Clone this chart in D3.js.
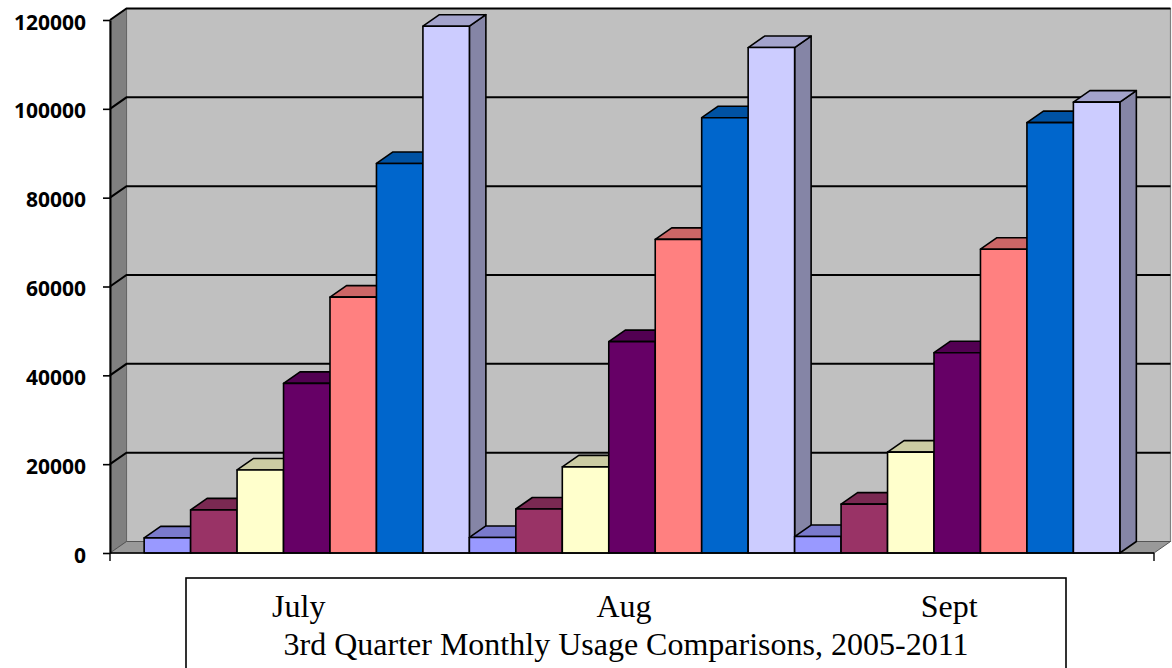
<!DOCTYPE html>
<html>
<head>
<meta charset="utf-8">
<script src="https://cdn.jsdelivr.net/npm/d3@7"></script>
<style>
  html, body { margin: 0; padding: 0; background: #fff; }
  svg { display: block; }
</style>
</head>
<body>
<svg id="chart" width="1172" height="668"></svg>
<script>
const months = ["July", "Aug", "Sept"];
const years = ["2005", "2006", "2007", "2008", "2009", "2010", "2011"];
const usage2005 = [3400, 3500, 3700];
const usage2006 = [9700, 9900, 11000];
const usage2007 = [18700, 19400, 22700];
const usage2008 = [38200, 47600, 45100];
const usage2009 = [57600, 70600, 68400];
const usage2010 = [87700, 98000, 96900];
const usage2011 = [118600, 113800, 101500];
const yTicks = [0, 20000, 40000, 60000, 80000, 100000, 120000];
const chartTitle = "3rd Quarter Monthly Usage Comparisons, 2005-2011";

const seriesValues = [usage2005, usage2006, usage2007, usage2008, usage2009, usage2010, usage2011];
const colors = ["#9999FF", "#993366", "#FFFFCC", "#660066", "#FF8080", "#0066CC", "#CCCCFF"];

(function () {
const svg = d3.select("#chart");
const W = 1172, H = 668;
svg.append("rect").attr("width", W).attr("height", H).attr("fill", "#fff");

// geometry
const pLeft = 110, pRight = 1154, pBottom = 553, pTop = 20;
const dx = 16.5, dy = -11.5;

const y = d3.scaleLinear().domain([0, 120000]).range([pBottom, pTop]);
const x0 = d3.scaleBand().domain(months).range([pLeft, pRight]).paddingInner(0).paddingOuter(0.105);
const x1 = d3.scaleBand().domain(years).range([0, x0.bandwidth()]).padding(0);

function shade(c, k) {
  const r = d3.rgb(c);
  return d3.rgb(r.r * k, r.g * k, r.b * k).formatHex();
}
const pts = arr => arr.map(p => p.join(",")).join(" ");

// back wall
svg.append("polygon")
  .attr("points", pts([[pLeft + dx, pTop + dy], [pRight + dx, pTop + dy], [pRight + dx, pBottom + dy], [pLeft + dx, pBottom + dy]]))
  .attr("fill", "#C0C0C0").attr("stroke", "#808080").attr("stroke-width", 1.2);
// side wall
svg.append("polygon")
  .attr("points", pts([[pLeft, pTop], [pLeft + dx, pTop + dy], [pLeft + dx, pBottom + dy], [pLeft, pBottom]]))
  .attr("fill", "#808080").attr("stroke", "#666").attr("stroke-width", 1);
// floor
svg.append("polygon")
  .attr("points", pts([[pLeft, pBottom], [pLeft + dx, pBottom + dy], [pRight + dx, pBottom + dy], [pRight, pBottom]]))
  .attr("fill", "#999999").attr("stroke", "#555").attr("stroke-width", 1);

// gridlines
const grid = svg.append("g");
yTicks.filter(v => v > 0).forEach(v => {
  grid.append("path")
    .attr("d", `M${pLeft},${y(v)}L${pLeft + dx},${y(v) + dy}L${pRight + dx},${y(v) + dy}`)
    .attr("fill", "none").attr("stroke", "#000").attr("stroke-width", 2);
});

// bars
const bars = svg.append("g");
months.forEach((m, mi) => {
  years.forEach((yr, si) => {
    const v = seriesValues[si][mi];
    const c = colors[si];
    const xl = x0(m) + x1(yr);
    const xr = xl + x1.bandwidth();
    const yt = y(v), yb = y(0);
    const g = bars.append("g").attr("stroke", "#000").attr("stroke-width", 1.6).attr("stroke-linejoin", "round");
    g.append("polygon")
      .attr("points", pts([[xr, yt], [xr + dx, yt + dy], [xr + dx, yb + dy], [xr, yb]]))
      .attr("fill", shade(c, 0.65));
    g.append("polygon")
      .attr("points", pts([[xl, yt], [xl + dx, yt + dy], [xr + dx, yt + dy], [xr, yt]]))
      .attr("fill", shade(c, 0.8));
    g.append("rect")
      .attr("x", xl).attr("y", yt).attr("width", x1.bandwidth()).attr("height", yb - yt)
      .attr("fill", c);
  });
});

// y axis
const yAxis = svg.append("g")
  .attr("transform", `translate(${pLeft},0)`)
  .call(d3.axisLeft(y).tickValues(yTicks).tickSize(7).tickSizeOuter(0).tickFormat(d3.format("d")));
yAxis.select(".domain").attr("stroke", "#000").attr("stroke-width", 2);
yAxis.selectAll(".tick line").attr("stroke", "#000").attr("stroke-width", 1.6);
yAxis.selectAll(".tick text")
  .attr("x", -24)
  .attr("dy", "0.43em")
  .attr("fill", "#000")
  .style("font-family", "'Open Sans', sans-serif")
  .style("font-weight", "700")
  .style("font-size", "21px");

// x axis front line and end ticks
svg.append("path")
  .attr("d", `M${pLeft},${pBottom}L${pRight},${pBottom}`)
  .attr("stroke", "#000").attr("stroke-width", 1.6);
[pLeft, pRight].forEach(xx => {
  svg.append("line").attr("x1", xx).attr("x2", xx).attr("y1", pBottom).attr("y2", pBottom + 8)
    .attr("stroke", "#000").attr("stroke-width", 1.4);
});

// label box
svg.append("rect")
  .attr("x", 186).attr("y", 578).attr("width", 880).attr("height", 100)
  .attr("fill", "#fff").attr("stroke", "#000").attr("stroke-width", 1.6);

svg.append("g").selectAll("text").data(months).join("text")
  .attr("x", d => x0(d) + x0.bandwidth() / 2 - 8)
  .attr("y", 617)
  .attr("text-anchor", "middle")
  .style("font-family", "'Liberation Serif', 'Times New Roman', serif")
  .style("font-size", "32px")
  .attr("fill", "#000")
  .text(d => d);

svg.append("text")
  .attr("x", (pLeft + pRight) / 2 - 6)
  .attr("y", 655)
  .attr("text-anchor", "middle")
  .style("font-family", "'Liberation Serif', 'Times New Roman', serif")
  .style("font-size", "32px")
  .attr("fill", "#000")
  .text(chartTitle);
})();
</script>
</body>
</html>
